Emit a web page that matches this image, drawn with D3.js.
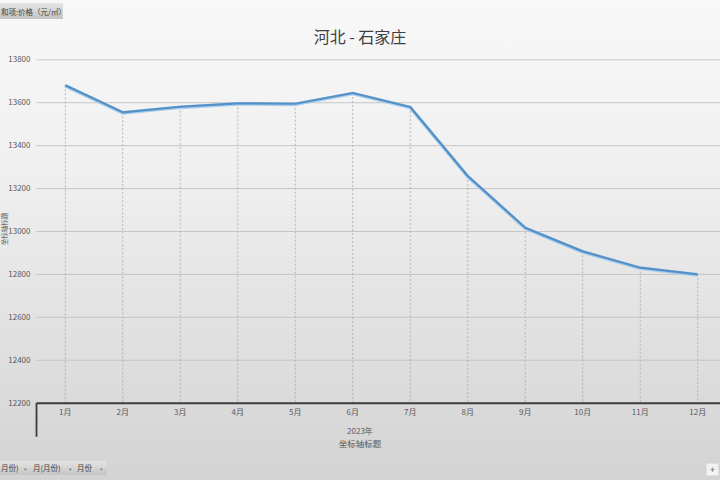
<!DOCTYPE html>
<html>
<head>
<meta charset="utf-8">
<script src="https://cdn.jsdelivr.net/npm/d3@7"></script>
<style>
  body { margin: 0; overflow: hidden; }
  text { font-family: "Noto Sans CJK SC", "Noto Sans", sans-serif; }
</style>
</head>
<body>
<script>
/* Datos */
const months = ["1月", "2月", "3月", "4月", "5月", "6月", "7月", "8月", "9月", "10月", "11月", "12月"];
const prices = [13679, 13553, 13579, 13595, 13593, 13643, 13578, 13256, 13015, 12905, 12829, 12798];
const yTicks = [12200, 12400, 12600, 12800, 13000, 13200, 13400, 13600, 13800];
const chartTitle = "河北 - 石家庄";
const xTitle1 = "2023年";
const xTitle2 = "坐标轴标题";
const yTitle = "坐标轴标题";
const fieldButton = "和项:价格（元/㎡）";
const axisButtons = ["月份)", "月(月份)", "月份"];

let width = 720;
let height = 480;

let margin = { top: 59.3, bottom: 77.3, left: 36.5, right: -6.5 };

let svg = d3.select("body").append("svg")
            .attr("width", width)
            .attr("height", height);

/* Fondo degradado */
let defs = svg.append("defs");
let grad = defs.append("linearGradient").attr("id", "bg")
               .attr("x1", 0).attr("y1", 0).attr("x2", 0).attr("y2", 1);
grad.append("stop").attr("offset", "0%").attr("stop-color", "#f8f8f8");
grad.append("stop").attr("offset", "35%").attr("stop-color", "#f0f0f0");
grad.append("stop").attr("offset", "100%").attr("stop-color", "#d3d3d3");
let btnGrad = defs.append("linearGradient").attr("id", "btn")
               .attr("x1", 0).attr("y1", 0).attr("x2", 0).attr("y2", 1);
btnGrad.append("stop").attr("offset", "0%").attr("stop-color", "#e4e4e4");
btnGrad.append("stop").attr("offset", "100%").attr("stop-color", "#c4c4c4");

svg.append("rect").attr("width", width).attr("height", height).attr("fill", "url(#bg)");

/* Escalas */
let escalaX = d3.scaleBand()
                .domain(months)
                .range([margin.left, width - margin.right]);
let cx = d => escalaX(d) + escalaX.bandwidth() / 2;

let escalaY = d3.scaleLinear()
                .domain([12200, 13800])
                .range([height - margin.bottom, margin.top]);

/* Eje Y con lineas de cuadricula */
let ejeY = d3.axisLeft(escalaY)
             .tickValues(yTicks)
             .tickSize(-(width - margin.left))
             .tickPadding(6)
             .tickFormat(d3.format("d"));
let gY = svg.append("g")
            .attr("transform", "translate(" + margin.left + ",0)")
            .call(ejeY);
gY.select(".domain").remove();
gY.selectAll(".tick line").attr("stroke", "#c6c6c6").attr("stroke-width", 1);
gY.selectAll(".tick text").attr("fill", "#595959").style("font-size", "8px");

/* Lineas de caida */
svg.append("g").selectAll("line")
   .data(months)
   .join("line")
   .attr("x1", d => cx(d)).attr("x2", d => cx(d))
   .attr("y1", (d, i) => escalaY(prices[i]))
   .attr("y2", escalaY(12200))
   .attr("stroke", "#a8a8a8")
   .attr("stroke-width", 0.8)
   .attr("stroke-dasharray", "2,2");

/* Eje X */
let ejeX = d3.axisBottom(escalaX).tickSize(0).tickPadding(7);
let gX = svg.append("g")
            .attr("transform", "translate(0," + escalaY(12200) + ")")
            .call(ejeX);
gX.select(".domain").attr("stroke", "#3c3c3c").attr("stroke-width", 2);
gX.selectAll(".tick text").attr("fill", "#595959").style("font-size", "8px");

svg.append("line")
   .attr("x1", margin.left).attr("x2", margin.left)
   .attr("y1", escalaY(12200)).attr("y2", escalaY(12200) + 34)
   .attr("stroke", "#3c3c3c").attr("stroke-width", 1.8);

/* Linea de datos */
let linea = d3.line()
              .x((d, i) => cx(months[i]))
              .y(d => escalaY(d));
svg.append("path")
   .datum(prices)
   .attr("d", linea)
   .attr("fill", "none")
   .attr("stroke", "#a9cdec")
   .attr("stroke-width", 3.6)
   .attr("stroke-linejoin", "round")
   .attr("transform", "translate(0,0.6)");
svg.append("path")
   .datum(prices)
   .attr("d", linea)
   .attr("fill", "none")
   .attr("stroke", "#5390c6")
   .attr("stroke-width", 2.2)
   .attr("stroke-linejoin", "round");

/* Titulos */
svg.append("text")
   .attr("x", 360).attr("y", 43)
   .attr("text-anchor", "middle")
   .attr("fill", "#404040")
   .style("font-size", "16px")
   .text(chartTitle);

svg.append("text")
   .attr("x", 360).attr("y", 434)
   .attr("text-anchor", "middle")
   .attr("fill", "#595959")
   .style("font-size", "8px")
   .text(xTitle1);

svg.append("text")
   .attr("x", 360).attr("y", 447)
   .attr("text-anchor", "middle")
   .attr("fill", "#595959")
   .style("font-size", "8.5px")
   .text(xTitle2);

svg.append("text")
   .attr("transform", "translate(6.5,229) rotate(-90)")
   .attr("text-anchor", "middle")
   .attr("fill", "#595959")
   .style("font-size", "6.5px")
   .text(yTitle);

/* Boton de campo arriba a la izquierda */
svg.append("rect")
   .attr("x", -5).attr("y", 3).attr("width", 68).attr("height", 16)
   .attr("fill", "url(#btn)");
svg.append("text")
   .attr("x", 1).attr("y", 14.5)
   .attr("fill", "#404040")
   .style("font-size", "7.5px")
   .text(fieldButton);

/* Botones de eje abajo */
let btnX = [1, 33, 77];
let arrowX = [25, 70, 101];
let gB = svg.append("g");
gB.append("rect")
  .attr("x", -2).attr("y", 461).attr("width", 109).attr("height", 14)
  .attr("fill", "url(#btn)");
axisButtons.forEach(function(t, i) {
    gB.append("text")
      .attr("x", btnX[i]).attr("y", 471)
      .attr("fill", "#404040")
      .style("font-size", "7.5px")
      .text(t);
    gB.append("text")
      .attr("x", arrowX[i]).attr("y", 471)
      .attr("text-anchor", "middle")
      .attr("fill", "#808080")
      .style("font-size", "5px")
      .text("▾");
});

/* Boton + */
svg.append("rect")
   .attr("x", 706).attr("y", 463).attr("width", 13).attr("height", 13)
   .attr("fill", "#f2f2f2").attr("stroke", "#d0d0d0");
svg.append("text")
   .attr("x", 712.5).attr("y", 473)
   .attr("text-anchor", "middle")
   .attr("fill", "#606060")
   .style("font-size", "9px")
   .text("+");
</script>
</body>
</html>
